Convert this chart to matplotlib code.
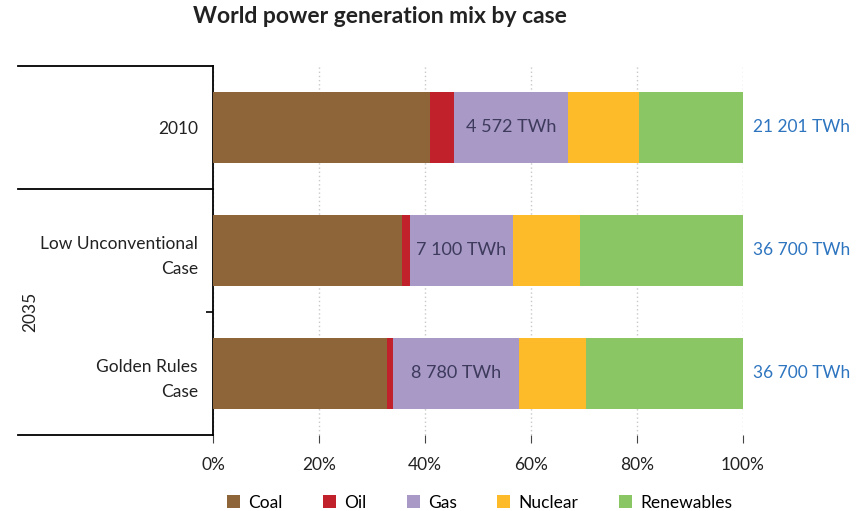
import numpy as np
import matplotlib
matplotlib.use("Agg")
import matplotlib.pyplot as plt
from matplotlib.transforms import blended_transform_factory

# =========================
# data (shares in %)
# =========================
cases = ["2010", "Low Unconventional\nCase", "Golden Rules\nCase"]
fuels = ["Coal", "Oil", "Gas", "Nuclear", "Renewables"]
coal = [40.9, 35.7, 32.8]
oil = [4.6, 1.4, 1.1]
gas = [21.5, 19.5, 23.8]
nuclear = [13.3, 12.6, 12.6]
renewables = [19.7, 30.8, 29.7]
gas_twh = [4572, 7100, 8780]
total_twh = [21201, 36700, 36700]

colors = ["#8E6439", "#C1212B", "#A899C6", "#FDBB2A", "#8BC664"]

plt.rcParams["font.family"] = ["Lato", "DejaVu Sans"]

fig = plt.figure(figsize=(8.64, 5.11), dpi=100)
ax = fig.add_axes([0.2468, 0.149, 0.613, 0.7218])

y = np.arange(len(cases))
left = np.zeros(len(cases))
for vals, name, col in zip([coal, oil, gas, nuclear, renewables], fuels, colors):
    ax.barh(y, vals, left=left, height=0.58, color=col, label=name, zorder=3)
    left += np.array(vals)

def fmt(v):
    return f"{v:,}".replace(",", " ") + " TWh"

# gas labels in the middle of the gas segment, totals to the right
for i in range(len(cases)):
    xc = coal[i] + oil[i] + gas[i] / 2
    ax.text(xc, y[i], fmt(gas_twh[i]), ha="center", va="center",
            fontsize=13, color="#3D3A5C", zorder=4)
    ax.text(102, y[i], fmt(total_twh[i]), ha="left", va="center",
            fontsize=12.5, color="#2E75C0", clip_on=False)

ax.set_xlim(0, 100)
ax.set_ylim(2.5, -0.5)
ax.set_xticks(np.arange(0, 101, 20))
ax.set_xticklabels([f"{t}%" for t in range(0, 101, 20)], fontsize=12.5, color="#222222")
ax.tick_params(axis="x", length=6, color="#444444", pad=10)
ax.set_yticks(y)
ax.set_yticklabels(cases, fontsize=12.5, color="#222222", linespacing=1.7)
ax.tick_params(axis="y", length=0, pad=11)
ax.set_yticks([1.5], minor=True)
ax.tick_params(axis="y", which="minor", length=5, width=1.2, color="black")

ax.grid(axis="x", linestyle=(0, (1, 2)), color="#C8C8C8", linewidth=1, zorder=0)
for s in ["top", "right", "bottom"]:
    ax.spines[s].set_visible(False)
ax.spines["left"].set_linewidth(1.3)

# group lines to the left of the axis
tr = blended_transform_factory(ax.transAxes, ax.transData)
for yy in [-0.5, 0.5, 2.5]:
    ax.plot([-0.368, 0], [yy, yy], transform=tr, color="black", lw=1.3, clip_on=False)
ax.text(-0.345, 1.5, "2035", transform=tr, rotation=90, ha="center", va="center",
        fontsize=12.5, color="#222222")

fig.suptitle("World power generation mix by case", x=0.44, y=0.988,
             fontsize=16.5, fontweight="bold", color="#222222")

fig.legend(loc="lower center", bbox_to_anchor=(0.555, -0.03), ncol=5, frameon=False,
           fontsize=12.5, handlelength=0.75, handleheight=0.75, handletextpad=0.5,
           columnspacing=2.3)

fig.savefig("out.png", dpi=100)
